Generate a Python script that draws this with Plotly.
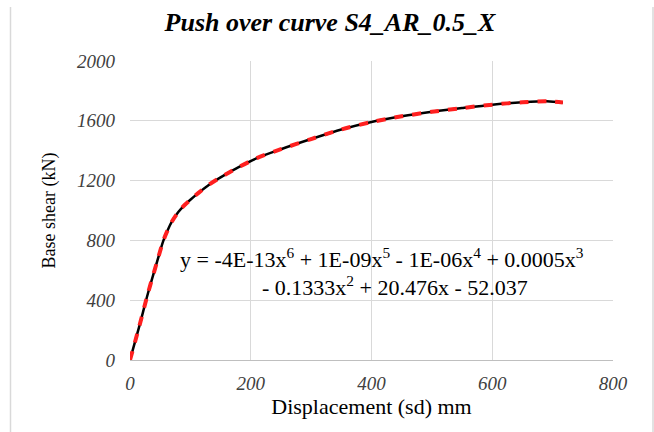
import plotly.graph_objects as go

# Pushover data (displacement mm, base shear kN)
displacement = [0, 15, 30, 45, 55, 62, 70, 80, 90, 100, 115, 132, 150, 180, 210, 250,
                300, 350, 400, 450, 500, 550, 600, 650, 690, 717]
base_shear = [0, 220, 450, 660, 795, 865, 930, 990, 1035, 1072, 1123, 1176, 1222, 1290,
              1350, 1410, 1478, 1542, 1592, 1630, 1660, 1685, 1708, 1724, 1731, 1722]

x_ticks = [0, 200, 400, 600, 800]
y_ticks = [0, 400, 800, 1200, 1600, 2000]

title_text = "Push over curve S4_AR_0.5_X"
x_title = "Displacement (sd) mm"
y_title = "Base shear (kN)"
equation_line1 = ("y = -4E-13x<sup>6</sup> + 1E-09x<sup>5</sup> - 1E-06x<sup>4</sup> + 0.0005x<sup>3</sup>")
equation_line2 = "- 0.1333x<sup>2</sup> + 20.476x - 52.037"

SERIF = "Liberation Serif"

fig = go.Figure()
# trendline (black, solid)
fig.add_trace(go.Scatter(x=displacement, y=base_shear, mode="lines",
                         line=dict(color="black", width=2.5, shape="spline", smoothing=0.8),
                         showlegend=False, hoverinfo="skip"))
# data (red, dashed)
fig.add_trace(go.Scatter(x=displacement, y=base_shear, mode="lines",
                         line=dict(color="#ff1f1f", width=4, dash="9px,9px", shape="spline", smoothing=0.8),
                         showlegend=False))

fig.update_layout(
    width=654, height=432,
    margin=dict(l=130, r=41, t=61, b=72),
    paper_bgcolor="white", plot_bgcolor="white",
    title=dict(text="<b><i>" + title_text + "</i></b>", x=(330 - 130) / 483, xanchor="center",
               xref="paper", y=0.95, yanchor="middle",
               font=dict(family=SERIF, size=26, color="black")),
    font=dict(family=SERIF, color="#404040"),
    showlegend=False,
)

fig.update_xaxes(range=[0, 800], tickvals=x_ticks,
                 ticktext=["<i>%d</i>" % v for v in x_ticks],
                 tickfont=dict(family=SERIF, size=19, color="#404040"),
                 showgrid=True, gridcolor="#d9d9d9", gridwidth=1,
                 zeroline=False, showline=True, linecolor="#bfbfbf", linewidth=1,
                 ticks="", ticklabelstandoff=6,
                 title=dict(text=x_title, font=dict(family=SERIF, size=22, color="black"), standoff=5))
fig.update_yaxes(range=[0, 2000], tickvals=y_ticks,
                 ticktext=["<i>%d</i>" % v for v in y_ticks],
                 tickfont=dict(family=SERIF, size=19, color="#404040"),
                 showgrid=True, gridcolor="#d9d9d9", gridwidth=1,
                 zeroline=False, showline=False, ticks="", ticklabelstandoff=14,
                 title=dict(text=y_title, font=dict(family=SERIF, size=18, color="black"), standoff=16))

fig.add_annotation(text=equation_line1, xref="paper", yref="paper",
                   x=(382 - 130) / 483, y=(360 - 258) / 299,
                   xanchor="center", yanchor="middle", align="center",
                   showarrow=False,
                   font=dict(family=SERIF, size=22, color="black"))
fig.add_annotation(text=equation_line2, xref="paper", yref="paper",
                   x=(395 - 130) / 483, y=(360 - 286) / 299,
                   xanchor="center", yanchor="middle", align="center",
                   showarrow=False,
                   font=dict(family=SERIF, size=22, color="black"))

# light chart border (left and right)
for px in (10.5, 653):
    fig.add_shape(type="line", xref="paper", yref="paper",
                  x0=(px - 130) / 483, x1=(px - 130) / 483,
                  y0=(360 - 7) / 299, y1=(360 - 440) / 299,
                  line=dict(color="#d9d9d9", width=1.5))

fig.write_html("out.html")
